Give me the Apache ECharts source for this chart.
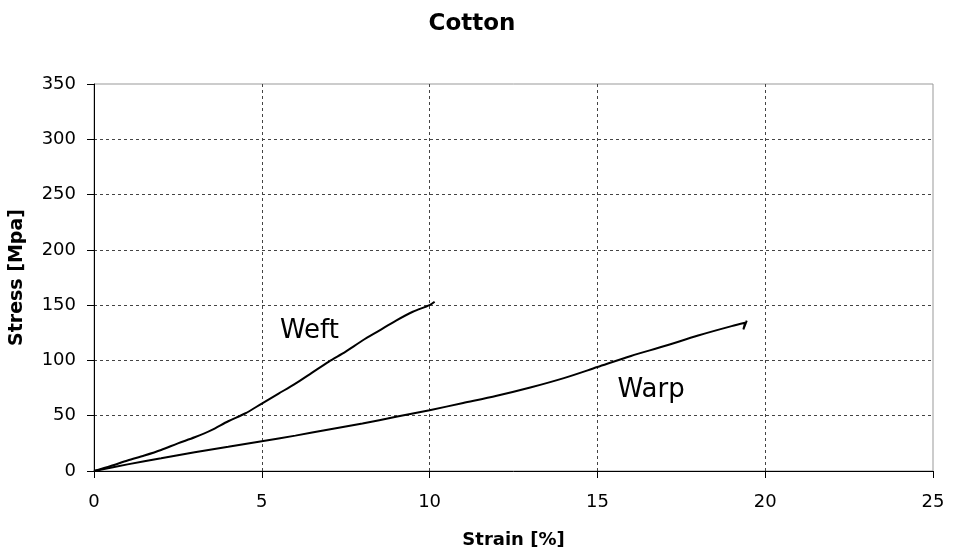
<!DOCTYPE html>
<html>
<head>
<meta charset="utf-8">
<script src="https://cdn.jsdelivr.net/npm/echarts@6/dist/echarts.min.js"></script>
<style>
  html, body { margin: 0; padding: 0; background: #fff; }
  #chart { width: 955px; height: 560px; }
</style>
</head>
<body>
<div id="chart"></div>
<script>
// stress-strain curves: [strain %, stress MPa]
const weft = [
  [0, 0], [0.5, 4.5], [1, 9.5], [1.5, 14], [2, 19], [2.5, 25], [3, 30.5],
  [3.5, 37], [4, 45], [4.5, 52], [5, 61], [5.5, 70], [6, 79], [6.5, 89],
  [7, 99], [7.5, 108], [8, 118], [8.5, 127], [9, 136], [9.5, 144],
  [10, 150], [10.15, 153]
];
const warp = [
  [0, 0], [1, 6], [2, 11.5], [3, 17], [4, 22], [5, 27], [6, 32], [7, 37.5],
  [8, 43], [9, 49], [10, 55], [11, 61.5], [12, 68], [13, 75.5], [14, 84],
  [15, 94], [16, 104], [17, 113], [18, 122.5], [19, 131], [19.4, 134],
  [19.35, 128], [19.45, 136]
];
const labelPos = { Weft: [6.42, 126.5], Warp: [16.6, 73] };

const chart = echarts.init(document.getElementById('chart'));
const font = 'DejaVu Sans, sans-serif';

const gridLine = {
  show: true, showMinLine: false, showMaxLine: false,
  lineStyle: { color: '#444', type: [3, 3], width: 1 }
};

function curveLabel(name) {
  return {
    symbol: 'circle', symbolSize: 1,
    itemStyle: { color: 'transparent' },
    data: [{ coord: labelPos[name], name: name }],
    label: { show: true, position: 'inside', formatter: name, fontFamily: font, fontSize: 26, color: '#000' }
  };
}

chart.setOption({
  animation: false,
  backgroundColor: '#fff',
  title: {
    text: 'Cotton', left: 467, textAlign: 'center', top: 8,
    textStyle: { fontFamily: font, fontSize: 23, fontWeight: 'bold', color: '#000' }
  },
  grid: {
    left: 94, right: 22, top: 84, bottom: 89, outerBoundsMode: 'none',
    show: true, borderColor: '#999', borderWidth: 1
  },
  xAxis: {
    type: 'value', min: 0, max: 25, interval: 5,
    name: 'Strain [%]', nameLocation: 'middle', nameGap: 60,
    nameTextStyle: { fontFamily: font, fontSize: 18, fontWeight: 'bold', color: '#000' },
    axisLine: { lineStyle: { color: '#000', width: 1 } },
    axisTick: { show: true, length: 7, lineStyle: { color: '#000' } },
    axisLabel: { fontFamily: font, fontSize: 18, color: '#000', margin: 22 },
    splitLine: gridLine
  },
  yAxis: {
    type: 'value', min: 0, max: 350, interval: 50,
    name: 'Stress [Mpa]', nameLocation: 'middle', nameGap: 67,
    nameTextStyle: { fontFamily: font, fontSize: 19, fontWeight: 'bold', color: '#000' },
    axisLine: { show: true, lineStyle: { color: '#000', width: 1 } },
    axisTick: { show: true, length: 7, lineStyle: { color: '#000' } },
    axisLabel: { fontFamily: font, fontSize: 18, color: '#000', margin: 18 },
    splitLine: gridLine
  },
  series: [
    {
      name: 'Weft', type: 'line', data: weft, smooth: 0.3, symbol: 'none',
      lineStyle: { color: '#000', width: 2 },
      markPoint: curveLabel('Weft')
    },
    {
      name: 'Warp', type: 'line', data: warp, smooth: 0.3, symbol: 'none',
      lineStyle: { color: '#000', width: 2 },
      markPoint: curveLabel('Warp')
    }
  ]
});
</script>
</body>
</html>
